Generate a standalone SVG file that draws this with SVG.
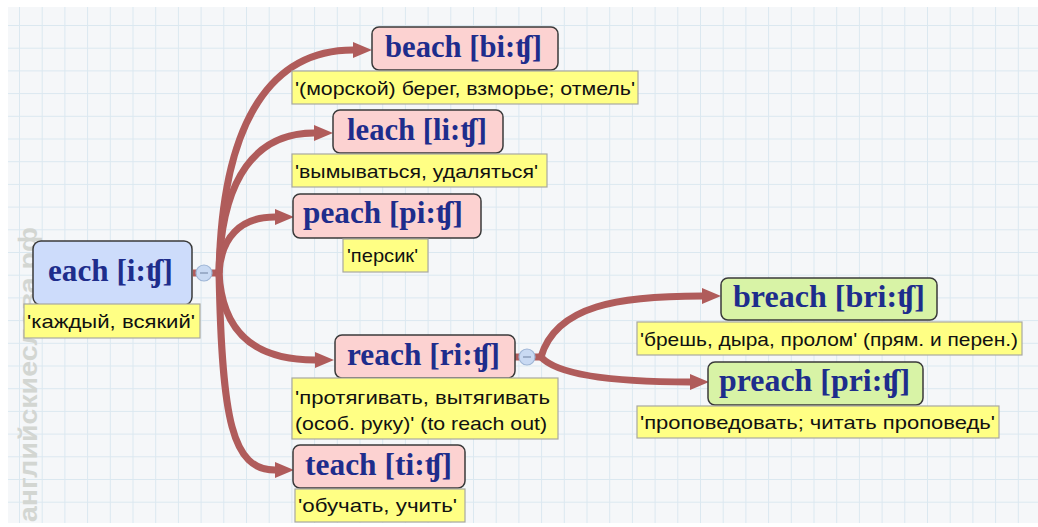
<svg xmlns="http://www.w3.org/2000/svg" width="1038" height="527" viewBox="0 0 1038 527">
<style>
.node{stroke:#3a3a3a;stroke-width:1.5}
.root{fill:#cddcfb}
.pink{fill:#fcd2d1}
.green{fill:#d8f3a6}
.lbl{fill:#ffff84;stroke:#a8a8a0;stroke-width:1.2}
.nt{font-family:"Liberation Serif","DejaVu Serif",serif;font-weight:bold;font-size:31px;fill:#1e2d8c}
.lt{font-family:"Liberation Sans","DejaVu Sans",sans-serif;font-size:19px;fill:#111}
.con{fill:none;stroke:#b05c5b;stroke-width:7;marker-end:url(#ah)}
.btn{fill:#c9daf3;stroke:#9fb6d6;stroke-width:1.2}
</style>
<defs>
<pattern id="grid" width="22.7" height="22.7" patternUnits="userSpaceOnUse" x="19" y="2.3">
<path d="M0,0H22.7M0,0V22.7" stroke="#dbe8f0" stroke-width="2" fill="none"/>
</pattern>
<marker id="ah" markerUnits="userSpaceOnUse" markerWidth="20" markerHeight="18" refX="0" refY="8" orient="auto">
<path d="M0,0L19,8L0,16z" fill="#b05c5b"/>
</marker>
</defs>
<rect width="1038" height="527" fill="#ffffff"/>
<rect x="8" y="7" width="1030" height="516" fill="#f5f7f9"/>
<rect x="8" y="7" width="1030" height="516" fill="url(#grid)"/>
<text transform="translate(37,522) rotate(-90)" font-family="Liberation Sans,DejaVu Sans,sans-serif" font-weight="bold" font-size="26" fill="#d3d6d2" textLength="295" lengthAdjust="spacingAndGlyphs">английскиеслова.рф</text>

<g id="connectors">
<path d="M193,273H222" fill="none" stroke="#b05c5b" stroke-width="7"/>
<path class="con" d="M219,273C222,115 275,50 353,50"/>
<path class="con" d="M219,273C221,175 258,133 314,133"/>
<path class="con" d="M219,273C221,238 240,217 275,217"/>
<path class="con" d="M219,273C222,330 252,360 315,360"/>
<path class="con" d="M219,273C222,420 232,470 275,470"/>
<path d="M515,357H545" fill="none" stroke="#b05c5b" stroke-width="7"/>
<path class="con" d="M541,357C556,305 620,296 702,296"/>
<path class="con" d="M541,357C560,378 630,382 690,382"/>
</g>

<g id="each">
<rect class="node root" x="33" y="241" width="159" height="64" rx="8"/>
<text class="nt" x="48" y="281" textLength="125" lengthAdjust="spacingAndGlyphs">each [i:ʧ]</text>
<rect class="lbl" x="24" y="304" width="176" height="34"/>
<text class="lt" x="27" y="328" textLength="168" lengthAdjust="spacingAndGlyphs">'каждый, всякий'</text>
<circle class="btn" cx="204" cy="273" r="8"/>
<path d="M200,273H208" stroke="#7f92b0" stroke-width="1.2"/>
</g>

<g id="beach">
<rect class="node pink" x="372" y="27" width="186" height="43" rx="7"/>
<text class="nt" x="385" y="57" textLength="157" lengthAdjust="spacingAndGlyphs">beach [bi:ʧ]</text>
<rect class="lbl" x="292" y="71" width="346" height="33"/>
<text class="lt" x="295" y="95" textLength="340" lengthAdjust="spacingAndGlyphs">'(морской) берег, взморье; отмель'</text>
</g>

<g id="leach">
<rect class="node pink" x="333" y="110" width="170" height="43" rx="7"/>
<text class="nt" x="347" y="140" textLength="140" lengthAdjust="spacingAndGlyphs">leach [li:ʧ]</text>
<rect class="lbl" x="292" y="154" width="255" height="33"/>
<text class="lt" x="295" y="178" textLength="243" lengthAdjust="spacingAndGlyphs">'вымываться, удаляться'</text>
</g>

<g id="peach">
<rect class="node pink" x="293" y="194" width="188" height="44" rx="7"/>
<text class="nt" x="303" y="223" textLength="160" lengthAdjust="spacingAndGlyphs">peach [pi:ʧ]</text>
<rect class="lbl" x="343" y="239" width="85" height="33"/>
<text class="lt" x="347" y="262" textLength="71" lengthAdjust="spacingAndGlyphs">'персик'</text>
</g>

<g id="reach">
<rect class="node pink" x="335" y="335" width="180" height="43" rx="7"/>
<text class="nt" x="347" y="365" textLength="153" lengthAdjust="spacingAndGlyphs">reach [ri:ʧ]</text>
<rect class="lbl" x="292" y="378" width="266" height="61"/>
<text class="lt" x="295" y="404" textLength="255" lengthAdjust="spacingAndGlyphs">'протягивать, вытягивать</text>
<text class="lt" x="295" y="430" textLength="252" lengthAdjust="spacingAndGlyphs">(особ. руку)' (to reach out)</text>
<circle class="btn" cx="527" cy="357" r="8"/>
<path d="M523,357H531" stroke="#7f92b0" stroke-width="1.2"/>
</g>

<g id="teach">
<rect class="node pink" x="293" y="445" width="172" height="43" rx="7"/>
<text class="nt" x="305" y="475" textLength="147" lengthAdjust="spacingAndGlyphs">teach [ti:ʧ]</text>
<rect class="lbl" x="295" y="489" width="170" height="33"/>
<text class="lt" x="298" y="512" textLength="159" lengthAdjust="spacingAndGlyphs">'обучать, учить'</text>
</g>

<g id="breach">
<rect class="node green" x="721" y="278" width="216" height="42" rx="7"/>
<text class="nt" x="733" y="307" textLength="192" lengthAdjust="spacingAndGlyphs">breach [bri:ʧ]</text>
<rect class="lbl" x="637" y="322" width="385" height="33"/>
<text class="lt" x="640" y="346" textLength="378" lengthAdjust="spacingAndGlyphs">'брешь, дыра, пролом' (прям. и перен.)</text>
</g>

<g id="preach">
<rect class="node green" x="708" y="362" width="215" height="43" rx="7"/>
<text class="nt" x="719" y="391" textLength="191" lengthAdjust="spacingAndGlyphs">preach [pri:ʧ]</text>
<rect class="lbl" x="637" y="406" width="362" height="32"/>
<text class="lt" x="640" y="429" textLength="355" lengthAdjust="spacingAndGlyphs">'проповедовать; читать проповедь'</text>
</g>
</svg>
